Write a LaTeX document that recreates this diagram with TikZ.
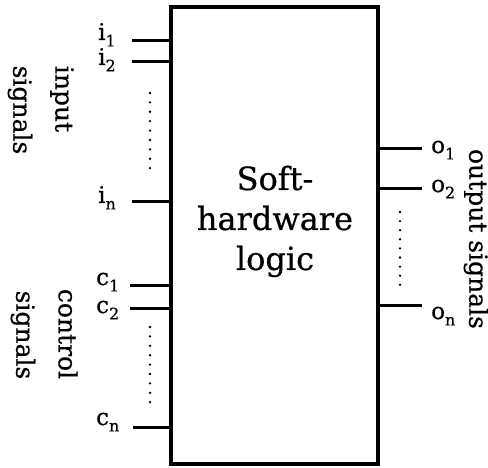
\documentclass[tikz,border=0pt]{standalone}
\usepackage{fontspec}
\setmainfont{DejaVu Serif}[FakeBold=0.6]
\newcommand\sigsub[1]{\raisebox{-0.28em}{\fontsize{16}{16}\selectfont #1}}
\begin{document}
\begin{tikzpicture}[x=1pt,y=-1pt,
  sig/.style={line width=3pt},
  lbl/.style={inner sep=0pt,font=\fontsize{23}{23}\selectfont},
  vlbl/.style={inner sep=0pt,rotate=-90,font=\fontsize{25}{25}\selectfont},
  mainlbl/.style={inner sep=0pt,font=\fontsize{32}{32}\selectfont,anchor=base},
  dotc/.style={fill=black}]
\useasboundingbox (0,0) rectangle (488,468);
\node[draw,line width=3.5pt,minimum width=207pt,minimum height=457pt,inner sep=0pt,outer sep=0pt] (box) at (274.5,235.5) {};
% main text
\node[mainlbl] (t1) at (275,190) {Soft-};
\node[mainlbl] (t2) at (275,230) {hardware};
\node[mainlbl] (t3) at (275,270) {logic};
% input lines
\coordinate (i1) at (132,41);
\coordinate (i2) at (132,62);
\coordinate (in) at (132,202);
\coordinate (c1) at (130,286);
\coordinate (c2) at (130,309);
\coordinate (cn) at (133,427);
\foreach \p in {i1,i2,in,c1,c2,cn} \draw[sig] (\p) -- (\p -| box.west);
% output lines
\coordinate (o1) at (422,149);
\coordinate (o2) at (422,189);
\coordinate (on) at (422,306);
\foreach \p in {o1,o2,on} \draw[sig] (box.east |- \p) -- (\p);
% labels
\node[lbl,anchor=base west] (li1) at (98,40) {i\sigsub{1}};
\node[lbl,anchor=base west] (li2) at (98,65) {i\sigsub{2}};
\node[lbl,anchor=base west] (lin) at (98,203) {i\sigsub{n}};
\node[lbl,anchor=base west] (lc1) at (96,285) {c\sigsub{1}};
\node[lbl,anchor=base west] (lc2) at (96,313) {c\sigsub{2}};
\node[lbl,anchor=base west] (lcn) at (96,425) {c\sigsub{n}};
\node[lbl,anchor=base west] (lo1) at (431,153) {o\sigsub{1}};
\node[lbl,anchor=base west] (lo2) at (431,192) {o\sigsub{2}};
\node[lbl,anchor=base west] (lon) at (431,319) {o\sigsub{n}};
% dots
\foreach \k in {0,...,8} {
  \fill[dotc] (150,{93+\k*9.4}) circle (1.3);
  \fill[dotc] (150,{327+\k*9.4}) circle (1.3);
  \fill[dotc] (400,{212+\k*9.1}) circle (1.3);
}
% rotated labels
\node[vlbl] (tin) at (62,99) {input};
\node[vlbl] (tsi) at (20,110) {signals};
\node[vlbl] (tco) at (68,334) {control};
\node[vlbl] (tsc) at (23,335) {signals};
\node[vlbl] (tout) at (476,239) {output signals};
\end{tikzpicture}
\end{document}
